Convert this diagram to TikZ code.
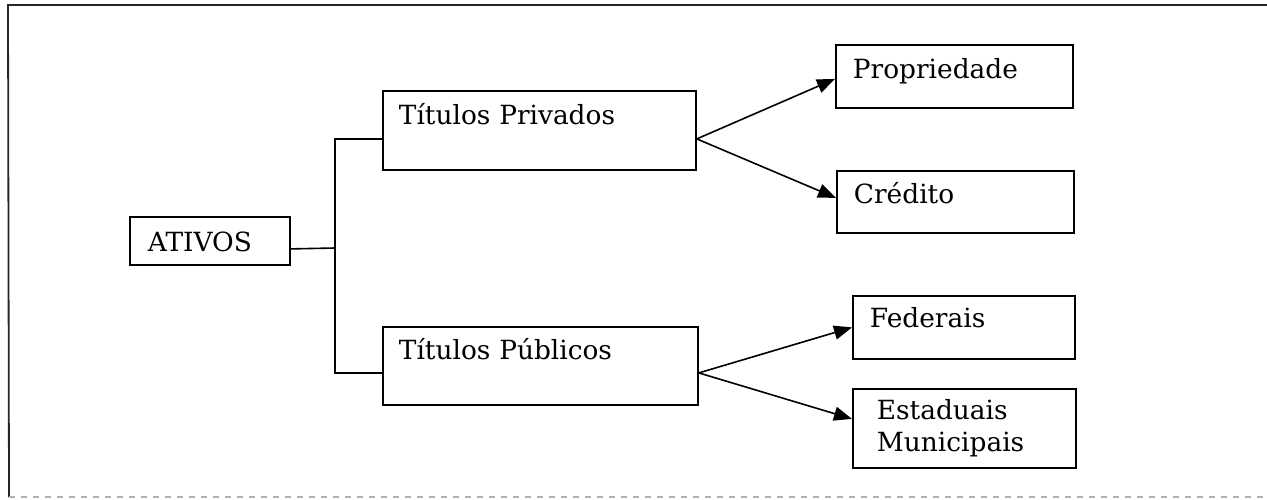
\documentclass[tikz,border=0pt]{standalone}
\usepackage{fontspec}
\setmainfont{DejaVu Serif}
\usepackage{tikz}
\usetikzlibrary{arrows.meta}
\colorlet{frm}{black!85}

\begin{document}
\begin{tikzpicture}[
        x=0.5pt, y=-0.5pt,
        box/.style={draw, line width=0.9pt, anchor=north west, align=left,
            inner ysep=0pt, font=\fontsize{13.2}{16}\selectfont},
        link/.style={line width=0.8pt},
        arr/.style={line width=0.8pt, -{Triangle[length=9pt,width=7pt]}}
    ]
    \useasboundingbox (0,0) rectangle (1267,499);
    % frame
    \draw[frm, line width=0.9pt] (1267,5) -- (8,5) -- (9,497);
    \draw[black!30, dashed, line width=0.6pt] (9,497) -- (1267,497);

    \node[box, inner xsep=9pt, text width=62pt, text height=17.5pt, text depth=6.5pt]
        (ativ) at (129,216) {ATIVOS};
    \node[box, inner xsep=8pt, text width=140.5pt, text height=17pt, text depth=22.5pt]
        (tpriv) at (382,90) {Títulos Privados};
    \node[box, inner xsep=8pt, text width=141.5pt, text height=16.5pt, text depth=22.5pt]
        (tpub) at (382,326) {Títulos Públicos};
    \node[box, inner xsep=8.5pt, text width=101.5pt, text height=17pt, text depth=14.5pt]
        (prop) at (835,44) {Propriedade};
    \node[box, inner xsep=8.5pt, text width=101.5pt, text height=16.5pt, text depth=14.5pt]
        (cred) at (836,170) {Crédito};
    \node[box, inner xsep=8.5pt, text width=94pt, text height=16pt, text depth=15.5pt]
        (fed) at (852,295) {Federais};
    \node[box, inner xsep=12pt, text width=87.5pt, text height=15.5pt, text depth=24pt]
        (est) at (852,388) {Estaduais\\Municipais};

    % bracket
    \coordinate (jn) at (335,248);
    \draw[link] ([yshift=-4pt]ativ.east) -- (jn);
    \draw[link] ([yshift=-4.25pt]tpriv.west) -| (jn) |- ([yshift=-3.5pt]tpub.west);

    % arrows
    \draw[arr] ([yshift=-4.25pt]tpriv.east) -- ([yshift=-1.25pt]prop.west);
    \draw[arr] ([yshift=-4.25pt]tpriv.east) -- ([yshift=2pt]cred.west);
    \draw[arr] ([yshift=-3.5pt]tpub.east) -- (fed.west);
    \draw[arr] ([yshift=-3.5pt]tpub.east) -- ([yshift=4.75pt]est.west);
\end{tikzpicture}
\end{document}
